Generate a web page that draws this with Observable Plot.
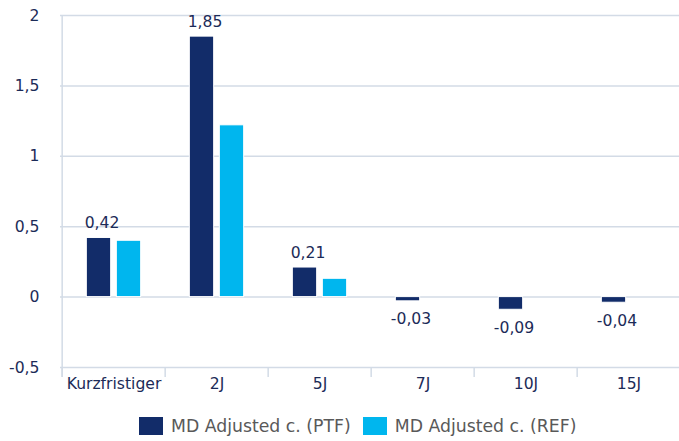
<!DOCTYPE html>
<html>
<head>
<meta charset="utf-8">
<script src="https://cdn.jsdelivr.net/npm/d3@7"></script>
<script src="https://cdn.jsdelivr.net/npm/@observablehq/plot@0.6"></script>
<style>
  body { margin: 0; background: #fff; width: 679px; height: 441px; overflow: hidden; }
  #chart svg { display: block; }
  .legend { display: flex; align-items: center; margin-left: 139px; margin-top: 16px; font-family: "DejaVu Sans", sans-serif; font-size: 17.3px; color: #595959; }
  .sw { width: 24px; height: 18px; margin-right: 8px; }
  .item { display: flex; align-items: center; margin-right: 12px; }
</style>
</head>
<body>
<div id="chart"></div>
<div class="legend">
  <div class="item"><div class="sw" style="background:#122c69"></div><span>MD Adjusted c. (PTF)</span></div>
  <div class="item"><div class="sw" style="background:#00b6ee"></div><span>MD Adjusted c. (REF)</span></div>
</div>
<script>
const categories = ["Kurzfristiger", "2J", "5J", "7J", "10J", "15J"];
const ptfValues = [0.42, 1.85, 0.21, -0.03, -0.09, -0.04];
const refValues = [0.40, 1.22, 0.13, 0, 0, 0];
const yTicks = [-0.5, 0, 0.5, 1, 1.5, 2];

const navy = "#122c69";
const cyan = "#00b6ee";
const gridColor = "#d3dbe6";
const textColor = "#1c2b58";

const ptf = categories.map((c, i) => ({cat: c, value: ptfValues[i]}));
const ref = categories.map((c, i) => ({cat: c, value: refValues[i]})).filter(d => d.value !== 0);

const fmtTick = d => String(d).replace(".", ",");
const fmtVal = d => d.toFixed(2).replace(".", ",");

const width = 679, marginLeft = 60, marginRight = -3;
const bw = (width - marginLeft - marginRight) / categories.length;
const barW = 25, gap = 5;
const outer = (bw - 2 * barW - gap) / 2;

const chart = Plot.plot({
  width, height: 400,
  marginLeft, marginRight, marginTop: 15, marginBottom: 33,
  style: {fontFamily: "DejaVu Sans, sans-serif", fontSize: "15.6px", color: textColor, background: "#fff"},
  x: {domain: categories, padding: 0, label: null, tickSize: 0, tickPadding: 10},
  y: {domain: [-0.5, 2], ticks: yTicks, tickFormat: fmtTick, label: null, tickSize: 0, tickPadding: 21},
  marks: [
    Plot.ruleY(yTicks, {stroke: gridColor, strokeWidth: 1.5}),
    Plot.ruleX([categories[0]], {x: d => d, dx: -bw / 2, stroke: gridColor, strokeWidth: 1.5, insetBottom: -10}),
    Plot.ruleX(categories, {x: d => d, y1: -0.5, y2: -0.5, dx: -bw / 2, stroke: gridColor, strokeWidth: 1.5, insetBottom: -10}),
    Plot.barY(ptf, {x: "cat", y: "value", fill: navy, stroke: "#fff", strokeWidth: 1, insetLeft: outer, insetRight: outer + barW + gap}),
    Plot.barY(ref, {x: "cat", y: "value", fill: cyan, stroke: "#fff", strokeWidth: 1, insetLeft: outer + barW + gap, insetRight: outer}),
    Plot.text(ptf.filter(d => d.value >= 0), {x: "cat", y: "value", text: d => fmtVal(d.value), dx: -12, dy: -10, lineAnchor: "bottom", fill: textColor, fontSize: 15.6}),
    Plot.text(ptf.filter(d => d.value < 0), {x: "cat", y: "value", text: d => fmtVal(d.value), dx: -12, dy: 12, lineAnchor: "top", fill: textColor, fontSize: 15.6})
  ]
});
document.getElementById("chart").appendChild(chart);
</script>
</body>
</html>
